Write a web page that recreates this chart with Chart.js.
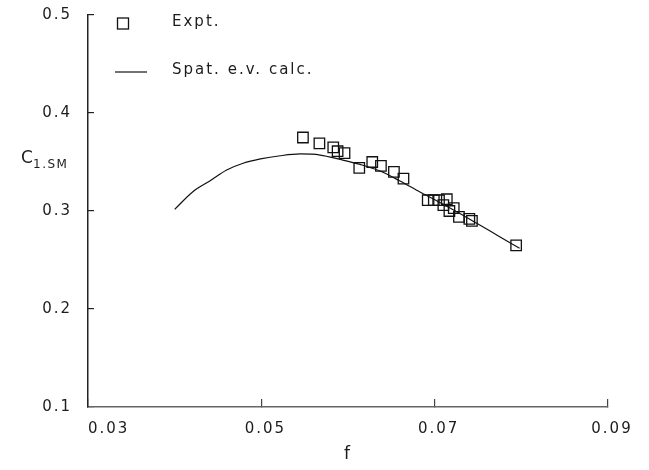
<!DOCTYPE html>
<html>
<head>
<meta charset="utf-8">
<script src="https://cdn.jsdelivr.net/npm/chart.js@4.4.1/dist/chart.umd.min.js"></script>
<style>
  html, body { margin: 0; padding: 0; background: #fff; }
  #c { display: block; }
</style>
</head>
<body>
<canvas id="c" width="649" height="470"></canvas>
<script>
// Measured C_1.SM against friction coefficient f
const exptF = [0.0548, 0.0567, 0.0583, 0.0588, 0.0596, 0.0613, 0.0628, 0.0638, 0.0653, 0.0664,
               0.0692, 0.0699, 0.0705, 0.0714, 0.0710, 0.0717, 0.0722, 0.0728, 0.0740, 0.0743, 0.0794];
const exptC = [0.375, 0.369, 0.365, 0.361, 0.359, 0.344, 0.350, 0.346, 0.340, 0.333,
               0.311, 0.311, 0.311, 0.312, 0.306, 0.300, 0.303, 0.294, 0.292, 0.290, 0.265];

// Spatial eigenvalue calculation
const calcF = [0.0400, 0.0421, 0.0441, 0.0460, 0.0479, 0.0499, 0.0522, 0.0545, 0.0568, 0.0591,
               0.0614, 0.0637, 0.0660, 0.0683, 0.0706, 0.0729, 0.0752, 0.0775, 0.0798];
const calcC = [0.3017, 0.3197, 0.3309, 0.3418, 0.3487, 0.3531, 0.3564, 0.3582, 0.3571, 0.3526,
               0.3475, 0.3408, 0.3306, 0.3194, 0.3087, 0.2975, 0.2857, 0.2738, 0.2620];

const xTicks = [0.03, 0.05, 0.07, 0.09];
const xTickLabels = ['0.03', '0.05', '0.07', '0.09'];
const yTicks = [0.1, 0.2, 0.3, 0.4, 0.5];
const yTickLabels = ['0.1', '0.2', '0.3', '0.4', '0.5'];

const seriesNames = ['Expt.', 'Spat. e.v. calc.'];
const xTitle = 'f';
const yTitleMain = 'C';
const yTitleSub = '1.SM';

const INK = '#1c1c1c';
const FONT = '"DejaVu Sans", sans-serif';
const SPACING = '2px';

const toPoints = (xs, ys) => xs.map((v, i) => ({ x: v, y: ys[i] }));

// Extra text: x tick labels, axis titles and the legend
const paperText = {
  id: 'paperText',
  beforeUpdate(chart) { chart.ctx.letterSpacing = SPACING; },
  beforeDraw(chart) { chart.ctx.letterSpacing = SPACING; },
  afterDraw(chart) {
    const { ctx, scales: { x } } = chart;
    ctx.save();
    ctx.letterSpacing = SPACING;
    ctx.fillStyle = INK;
    ctx.strokeStyle = INK;
    ctx.textBaseline = 'middle';
    ctx.font = '15px ' + FONT;

    // x tick labels
    xTicks.forEach((v, i) => {
      const px = x.getPixelForValue(v);
      ctx.textAlign = i === 0 ? 'left' : 'center';
      ctx.fillText(xTickLabels[i], i === 0 ? px : px + 4, x.top + 22);
    });

    // x axis title
    ctx.textAlign = 'center';
    ctx.font = '17px ' + FONT;
    ctx.fillText(xTitle, (x.left + x.right) / 2, x.top + 48);

    // y axis title with subscript
    ctx.textAlign = 'left';
    ctx.textBaseline = 'alphabetic';
    ctx.letterSpacing = '0px';
    ctx.font = '17px ' + FONT;
    ctx.fillText(yTitleMain, 21, 163);
    ctx.font = '12px ' + FONT;
    ctx.letterSpacing = '1.5px';
    ctx.fillText(yTitleSub, 33, 168);

    // legend
    const ds = chart.data.datasets;
    ctx.letterSpacing = SPACING;
    ctx.font = '15px ' + FONT;
    ctx.textBaseline = 'middle';
    ctx.lineWidth = ds[0].borderWidth;
    ctx.strokeStyle = ds[0].pointBorderColor;
    ctx.strokeRect(117.5, 18, 11, 11);
    ctx.fillText(seriesNames[0], 172, 22);
    ctx.lineWidth = ds[1].borderWidth;
    ctx.strokeStyle = ds[1].borderColor;
    ctx.beginPath();
    ctx.moveTo(115, 72);
    ctx.lineTo(147, 72);
    ctx.stroke();
    ctx.fillText(seriesNames[1], 172, 70);
    ctx.restore();
  }
};

const noEdgePadding = s => {
  s.paddingTop = 0;
  s.paddingBottom = 0;
  s.paddingLeft = 0;
  s.paddingRight = 0;
};

new Chart(document.getElementById('c'), {
  type: 'scatter',
  data: {
    datasets: [
      {
        label: seriesNames[0],
        data: toPoints(exptF, exptC),
        pointStyle: 'rect',
        pointRadius: 7.4,
        pointBorderWidth: 1.3,
        borderWidth: 1.3,
        pointBorderColor: '#111',
        pointBackgroundColor: 'rgba(0,0,0,0)',
        showLine: false,
        order: 1
      },
      {
        label: seriesNames[1],
        data: toPoints(calcF, calcC),
        showLine: true,
        borderColor: '#111',
        borderWidth: 1.2,
        pointRadius: 0,
        cubicInterpolationMode: 'monotone',
        fill: false,
        order: 2
      }
    ]
  },
  options: {
    responsive: false,
    animation: false,
    devicePixelRatio: 1,
    layout: { padding: { left: 0, right: 41, top: 15, bottom: 0 } },
    plugins: { legend: { display: false }, tooltip: { enabled: false } },
    scales: {
      x: {
        type: 'linear',
        min: 0.03,
        max: 0.09,
        afterBuildTicks: s => { s.ticks = xTicks.map(v => ({ value: v })); },
        afterFit: s => { s.height = 63; noEdgePadding(s); },
        grid: { drawOnChartArea: false, tickLength: -8, color: '#444', lineWidth: 1.2 },
        border: { color: '#666', width: 1.5 },
        ticks: { display: false }
      },
      y: {
        type: 'linear',
        min: 0.1,
        max: 0.5,
        afterBuildTicks: s => { s.ticks = yTicks.map(v => ({ value: v })); },
        afterFit: s => { s.width = 88; noEdgePadding(s); },
        grid: { drawOnChartArea: false, tickLength: -6, color: '#222', lineWidth: 1.2 },
        border: { color: '#222', width: 1.5 },
        ticks: {
          padding: 22,
          color: INK,
          font: { family: FONT, size: 15 },
          callback: (v, i) => yTickLabels[i]
        }
      }
    }
  },
  plugins: [paperText]
});
</script>
</body>
</html>
